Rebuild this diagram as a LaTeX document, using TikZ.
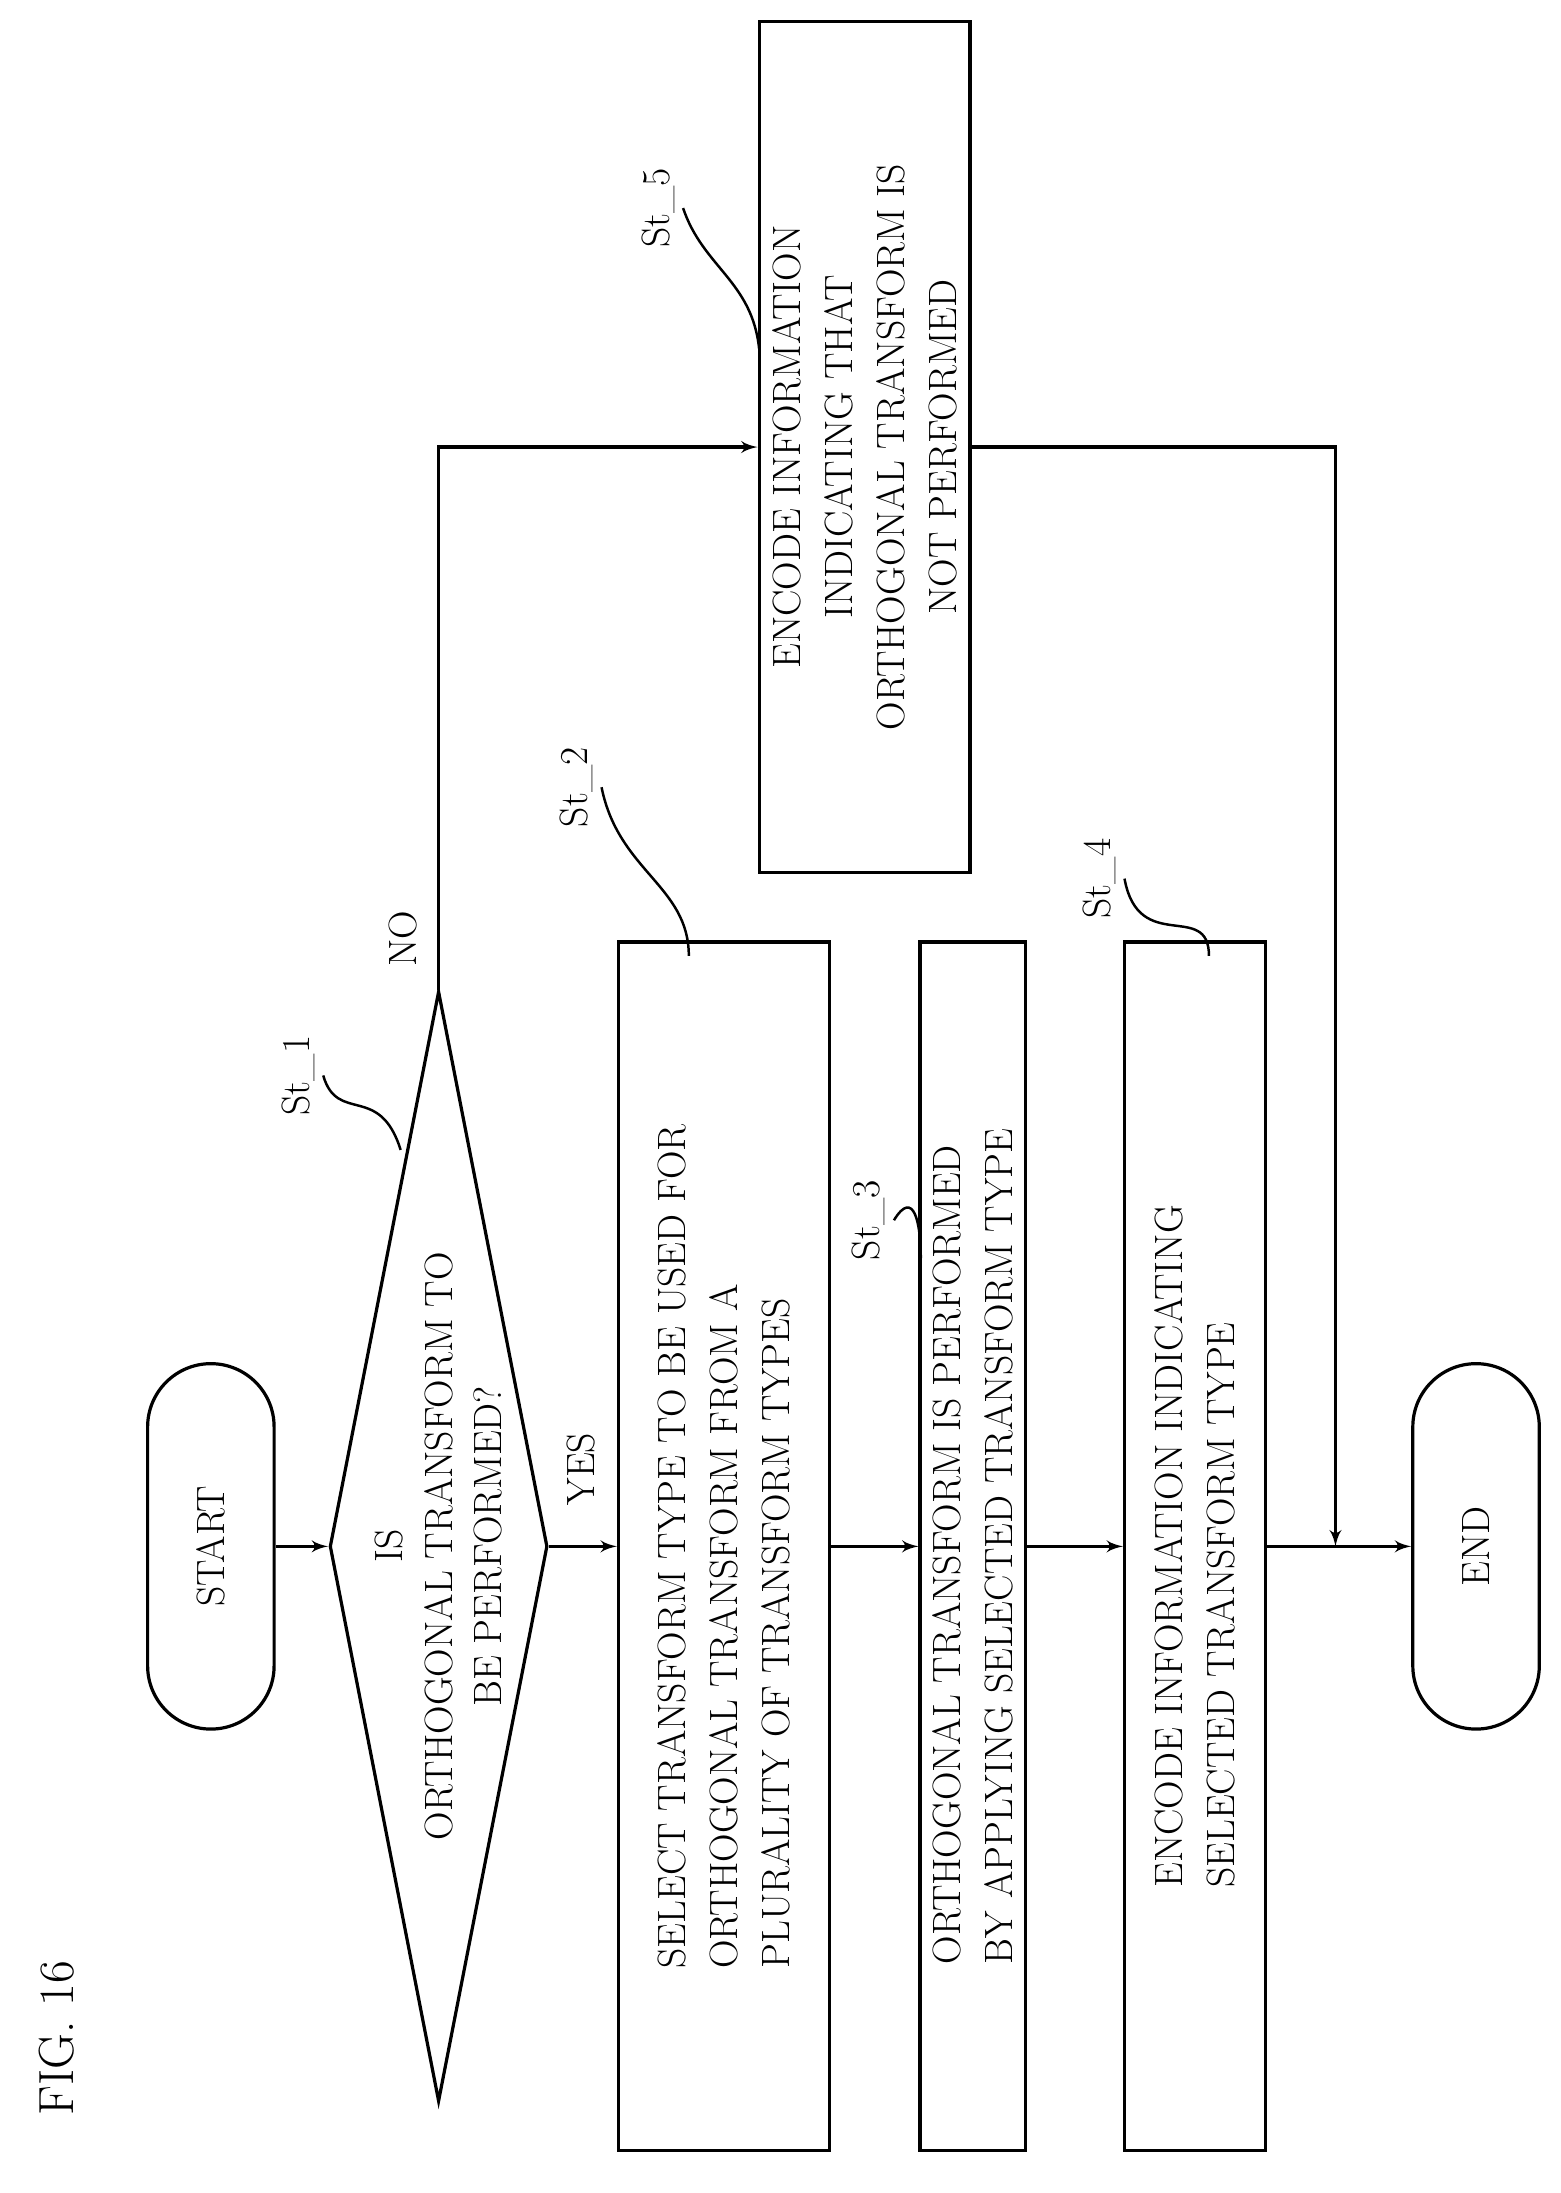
\documentclass[tikz,border=0pt]{standalone}
\usepackage{tikz}
\usetikzlibrary{arrows,shapes,positioning}

\begin{document}
\begin{tikzpicture}
        [
            x=0.02cm, y=-0.02cm,
            line/.style = {
                draw,
                line width=1.3pt,
                -latex'
            },
            block/.style = {
                rectangle,
                draw,
                line width=1.3pt,
                rotate=90,
                align=left,
                font=\fontsize{16}{21}\selectfont,
                minimum width=17.2cm
            },
            term/.style = {
                rectangle,
                draw,
                line width=1.3pt,
                rotate=90,
                rounded corners=0.9cm,
                minimum width=5.2cm,
                minimum height=1.8cm,
                font=\fontsize{16}{21}\selectfont
            },
            decision/.style = {
                diamond,
                draw,
                line width=1.3pt,
                rotate=90,
                inner sep=0pt,
                minimum width=15.8cm,
                minimum height=3.1cm
            },
            tag/.style = {
                rotate=90,
                font=\fontsize{16}{20}\selectfont
            },
            lead/.style = {
                draw,
                line width=1pt
            }
        ]
        \useasboundingbox (0,0) rectangle (1110,1560);

        \node[tag,font=\fontsize{20}{24}\selectfont] (fig) at (40,1450) {FIG. 16};

        \node[term] (start) at (150,1100) {START};
        \node[decision] (ortho) at (312,1100) {};
        \node[tag,align=center] (orthotext) at (ortho) {IS\\ORTHOGONAL TRANSFORM TO\\BE PERFORMED?};
        \node[block,minimum height=3cm] (select) at (515,1100) {SELECT TRANSFORM TYPE TO BE USED FOR\\ORTHOGONAL TRANSFORM FROM A\\PLURALITY OF TRANSFORM TYPES};
        \node[block,minimum height=1.5cm] (apply) at (692,1100) {ORTHOGONAL TRANSFORM IS PERFORMED\\BY APPLYING SELECTED TRANSFORM TYPE};
        \node[block,minimum height=2cm] (encsel) at (850,1100) {ENCODE INFORMATION INDICATING\\SELECTED TRANSFORM TYPE};
        \node[term] (end) at (1050,1100) {END};
        \node[block,align=center,minimum width=12.1cm,minimum height=3cm] (encnot) at (615,318) {ENCODE INFORMATION\\INDICATING THAT\\ORTHOGONAL TRANSFORM IS\\NOT PERFORMED};
        \coordinate (merge) at (950,1100);

        \node[tag] (yes) at (413,1045) {YES};
        \node[tag] (no) at (287,668) {NO};

        % step labels
        \node[tag] (l1) at (212,765) {St\_1};
        \node[tag] (l2) at (410,560) {St\_2};
        \node[tag] (l3) at (618,868) {St\_3};
        \node[tag] (l4) at (782,625) {St\_4};
        \node[tag] (l5) at (468,148) {St\_5};
        \coordinate (p1) at (285,818);
        \coordinate (p2) at (490,680);
        \coordinate (p3) at (655,895);
        \coordinate (p4) at (860,680);
        \coordinate (p5) at (540,248);
        \path[lead] (l1.south) .. controls (240,800) and (270,770) .. (p1);
        \path[lead] (l2.south) .. controls (440,620) and (490,630) .. (p2);
        \path[lead] (l3.south) .. controls (650,845) and (655,870) .. (p3);
        \path[lead] (l4.south) .. controls (810,680) and (860,640) .. (p4);
        \path[lead] (l5.south) .. controls (500,190) and (535,200) .. (p5);

        \path[line] (start) -- (ortho);
        \path[line] (ortho) -- (select);
        \path[line] (select) -- (apply);
        \path[line] (apply) -- (encsel);
        \path[line] (encsel) -- (end);
        \path[line] (ortho.east) |- (encnot.north);
        \path[line] (encnot.south) -| (merge);
    \end{tikzpicture}
\end{document}
